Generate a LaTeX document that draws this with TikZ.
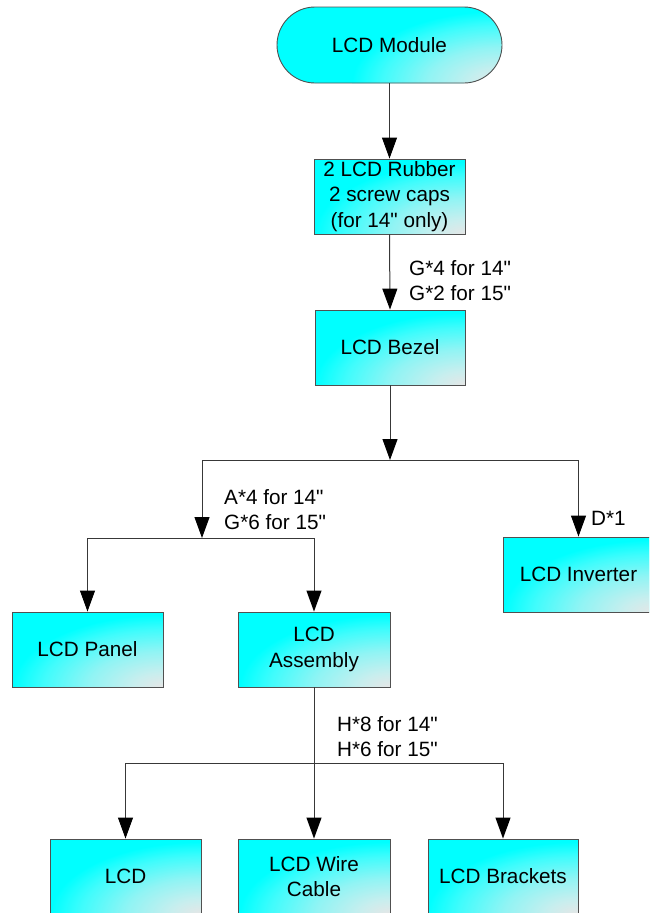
\documentclass[tikz,border=0pt]{standalone}
\usepackage{fontspec}
\setmainfont{Liberation Sans}[Ligatures=TeXOff]
\usetikzlibrary{arrows.meta}
\definecolor{boxgray}{HTML}{505050}
\definecolor{shadegray}{HTML}{E6E6E6}
\definecolor{aqua}{HTML}{00FFFF}
\definecolor{aqA}{HTML}{C8EEEE}
\definecolor{aqB}{HTML}{90F4F4}
\definecolor{aqC}{HTML}{40FCFC}
\definecolor{linegray}{HTML}{383838}
\pgfdeclareradialshading{boxshade}{\pgfpoint{0bp}{0bp}}{%
  color(0bp)=(shadegray); color(5bp)=(aqA);
  color(12.5bp)=(aqB); color(20bp)=(aqC); color(25bp)=(aqua); color(50bp)=(aqua)}
\tikzset{
  box/.style={draw=boxgray, line width=0.9pt, align=center, inner sep=2pt,
    minimum width=151pt, minimum height=75pt, text=black,
    font=\fontsize{20.7}{25.5}\selectfont,
    path picture={\fill[aqua] (path picture bounding box.south west)
        rectangle (path picture bounding box.north east);
      \shade[shading=boxshade]
      (path picture bounding box.south east) ellipse (150pt and 72pt);}},
  conn/.style={draw=linegray, line width=1pt},
  arr/.style={conn, -{Triangle[length=21pt,width=15pt,color=black]}},
  lbl/.style={anchor=west, align=left, inner sep=0pt, text=black,
    font=\fontsize{20.7}{25}\selectfont}
}
\begin{document}
\begin{tikzpicture}[x=1pt,y=-1pt]
\useasboundingbox (0,0) rectangle (649,913);
\clip (0,0) rectangle (649,913);
\fill[white] (0,0) rectangle (649,913);

\node[box, minimum width=225pt, minimum height=76pt, rounded corners=38pt] (mod) at (389.5,45) {LCD Module};
\node[box] (rub) at (389.5,196.5) {2 LCD Rubber\\2 screw caps\\(for 14" only)};
\node[box, minimum width=150pt] (bez) at (390,347.5) {LCD Bezel};
\node[box] (inv) at (578.5,574.5) {LCD Inverter};
\node[box] (pan) at (87.5,649.5) {LCD Panel};
\node[box, minimum width=152pt] (asm) at (314,649.5) {LCD\\Assembly};
\node[box] (lcd) at (125.5,876.5) {LCD};
\node[box, minimum width=152pt] (wire) at (314,876.5) {LCD Wire\\Cable};
\node[box, minimum width=150pt] (brk) at (503,876.5) {LCD Brackets};

\coordinate (j1) at (390,460);
\coordinate (jL) at (202,460);
\coordinate (jR) at (578.5,460);
\coordinate (j2) at (202,538);
\coordinate (j2L) at (87.5,538);
\coordinate (j2R) at (314,538);
\coordinate (j3L) at (125.5,763);
\coordinate (j3R) at (503,763);

\draw[arr] (mod.south) -- (rub.north);
\draw[arr] (rub.south) -- (bez.north);
\draw[arr] (bez.south) -- (j1);
\draw[conn] (jL) -- (jR);
\draw[arr] (jR) -- (inv.north);
\draw[arr] (jL) -- (j2);
\draw[conn] (j2L) -- (j2R);
\draw[arr] (j2L) -- (pan.north);
\draw[arr] (j2R) -- (asm.north);
\draw[arr] (asm.south) -- (wire.north);
\draw[conn] (j3L) -- (j3R);
\draw[arr] (j3L) -- (lcd.north);
\draw[arr] (j3R) -- (brk.north);

\node[lbl] (l1) at (409,280.5) {G*4 for 14"\\G*2 for 15"};
\node[lbl] (l2) at (224,510) {A*4 for 14"\\G*6 for 15"};
\node[lbl] (l3) at (591,518) {D*1};
\node[lbl] (l4) at (337,737) {H*8 for 14"\\H*6 for 15"};
\end{tikzpicture}
\end{document}
